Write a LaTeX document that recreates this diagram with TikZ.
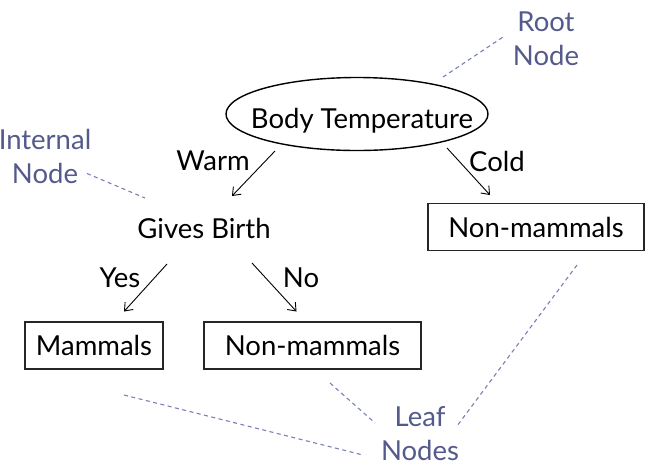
\documentclass[tikz,border=0pt]{standalone}
\usepackage{fontspec}
\setmainfont{Lato}
\usetikzlibrary{arrows.meta,shapes.geometric,calc}
\definecolor{lbl}{RGB}{84,90,140}
\definecolor{dsh}{RGB}{122,128,182}
\begin{document}
\begin{tikzpicture}[x=1pt,y=-1pt,
  every node/.style={font=\fontsize{27.5}{34}\selectfont, inner sep=0pt},
  leafbox/.style={draw=black!85, line width=1.1pt, minimum height=47pt},
  arr/.style={-{Straight Barb[length=7pt,width=11pt]}, line width=0.9pt},
  note/.style={text=lbl, align=center},
  guide/.style={draw=dsh, line width=1.1pt, dash pattern=on 4pt off 3.5pt}]
\useasboundingbox (0,0) rectangle (654,467);
\fill[white] (0,0) rectangle (654,467);

% tree nodes
\node[draw, ellipse, line width=1.4pt, minimum width=262pt, minimum height=73pt] (bt) at (357,114) {};
\node[anchor=base] (btt) at (362,128) {Body Temperature};
\node (gb) at (204,228) {Gives Birth};
\node[leafbox, minimum width=216pt] (nm1) at (536,227) {Non-mammals};
\node[leafbox, minimum width=138pt] (mam) at (94,345.5) {Mammals};
\node[leafbox, minimum width=217pt] (nm2) at (312.5,345.5) {Non-mammals};

% annotation labels
\node[note] (root) at (546,39) {Root\\Node};
\node[note] (intl) at (45,156.5) {Internal\\Node};
\node[note] (leaf) at (420,433.5) {Leaf\\Nodes};

% edge labels
\node[anchor=base] (lw) at (213,170) {Warm};
\node[anchor=base] (lc) at (497,171) {Cold};
\node[anchor=base] (ly) at (120,287) {Yes};
\node[anchor=base] (ln) at (301,287) {No};

% arrows
\draw[arr] ($(bt)+(-82,37)$) -- ($(gb)+(28,-32)$);
\draw[arr] ($(bt)+(90,34)$) -- ($(nm1)+(-46,-32)$);
\draw[arr] ($(gb)+(-37,36)$) -- ($(mam)+(30,-34)$);
\draw[arr] ($(gb)+(48,35)$) -- ($(nm2)+(-16,-34)$);

% dashed guide lines
\draw[guide] ($(bt)+(86,-37)$) -- ($(root)+(-43,-2)$);
\draw[guide] ($(intl)+(42,17)$) -- ($(gb)+(-59,-30)$);
\draw[guide] ($(mam)+(30,49.5)$) -- ($(leaf)+(-57,21.5)$);
\draw[guide] ($(nm2)+(17.5,37.5)$) -- ($(leaf)+(-45,-10.5)$);
\draw[guide] ($(nm1)+(41,38)$) -- ($(leaf)+(37,-7.5)$);
\end{tikzpicture}
\end{document}
